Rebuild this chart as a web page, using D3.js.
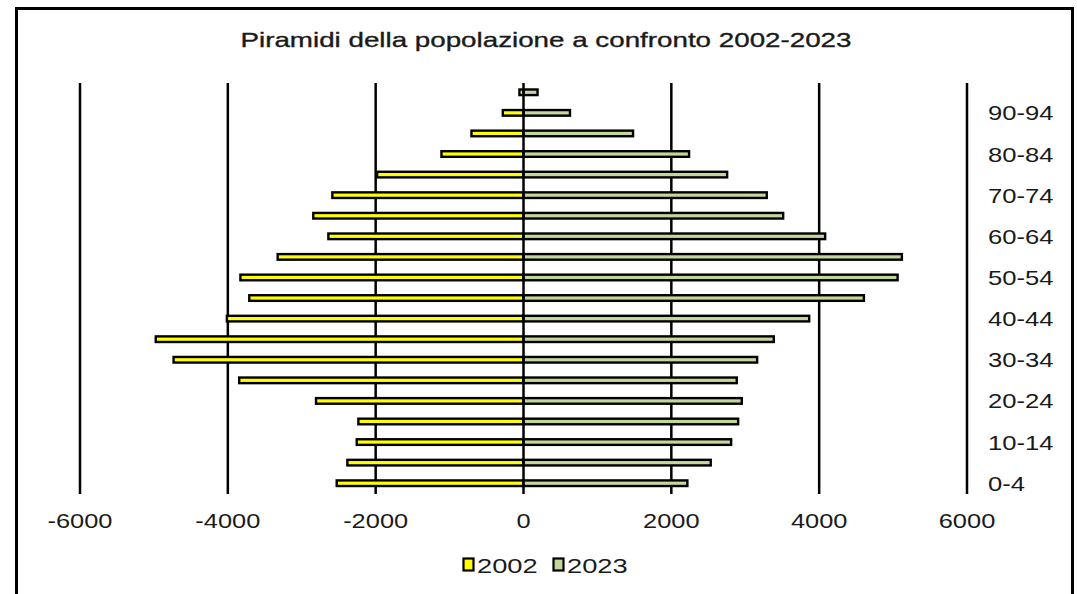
<!DOCTYPE html>
<html>
<head>
<meta charset="utf-8">
<script src="https://cdn.jsdelivr.net/npm/d3@7"></script>
<style>
  html, body { margin: 0; padding: 0; background: #fff; }
  svg { display: block; }
  text { font-family: "Liberation Sans", Arial, sans-serif; fill: #1a1a1a; }
</style>
</head>
<body>
<svg id="chart" width="1077" height="594"></svg>
<script>
const title = "Piramidi della popolazione a confronto 2002-2023";
const categories = ["0-4","5-9","10-14","15-19","20-24","25-29","30-34","35-39","40-44","45-49",
                    "50-54","55-59","60-64","65-69","70-74","75-79","80-84","85-89","90-94","95-99"];
const values2002 = [2527, 2383, 2256, 2234, 2807, 3846, 4734, 4975, 4013, 3710,
                    3830, 3326, 2640, 2844, 2586, 1980, 1110, 704, 280, 55];
const values2023 = [2217, 2533, 2809, 2904, 2953, 2885, 3161, 3386, 3865, 4605,
                    5061, 5119, 4081, 3513, 3291, 2755, 2240, 1482, 629, 190];
const yTickLabels = ["0-4","10-14","20-24","30-34","40-44","50-54","60-64","70-74","80-84","90-94"];
const xTickValues = [-6000, -4000, -2000, 0, 2000, 4000, 6000];
const seriesNames = ["2002", "2023"];
const seriesColors = ["#FFFF00", "#C4D79B"];

const svg = d3.select("#chart");

// frame
svg.append("path")
  .attr("d", "M16.5,600 L16.5,8.5 L1072.5,8.5 L1072.5,600")
  .attr("fill", "none").attr("stroke", "#000").attr("stroke-width", 3);

const x = d3.scaleLinear().domain([-6000, 6000]).range([80, 967]);
const y = d3.scaleBand().domain(categories).range([493.5, 82]).padding(0);
const barH = 5.6;

function stretch(sel, factor) {
  sel.each(function () {
    const w = this.getComputedTextLength();
    d3.select(this).attr("textLength", w * factor).attr("lengthAdjust", "spacingAndGlyphs");
  });
}

// title
svg.append("text")
  .attr("x", 546).attr("y", 47)
  .attr("text-anchor", "middle")
  .style("font-size", "21px")
  .style("stroke", "#1a1a1a").style("stroke-width", 0.35)
  .attr("textLength", 611).attr("lengthAdjust", "spacingAndGlyphs")
  .text(title);

// gridlines
svg.append("g").selectAll("line")
  .data(xTickValues.filter(d => d !== 0))
  .join("line")
  .attr("x1", d => x(d)).attr("x2", d => x(d))
  .attr("y1", 83).attr("y2", 494)
  .attr("stroke", "#000").attr("stroke-width", 2.5);

// bars
const rows = categories.map((c, i) => ({ c, a: values2002[i], b: values2023[i] }));
const g = svg.append("g");
g.selectAll("rect.b2002").data(rows).join("rect")
  .attr("class", "b2002")
  .attr("x", d => x(-d.a)).attr("width", d => x(0) - x(-d.a))
  .attr("y", d => y(d.c) + (y.bandwidth() - barH) / 2).attr("height", barH)
  .attr("fill", seriesColors[0]).attr("stroke", "#000").attr("stroke-width", 2.4);
g.selectAll("rect.b2023").data(rows).join("rect")
  .attr("class", "b2023")
  .attr("x", x(0)).attr("width", d => x(d.b) - x(0))
  .attr("y", d => y(d.c) + (y.bandwidth() - barH) / 2).attr("height", barH)
  .attr("fill", seriesColors[1]).attr("stroke", "#000").attr("stroke-width", 2.4);

// zero line
svg.append("line")
  .attr("x1", x(0)).attr("x2", x(0)).attr("y1", 83).attr("y2", 494)
  .attr("stroke", "#000").attr("stroke-width", 2.5);

// x tick labels
const xl = svg.append("g").selectAll("text").data(xTickValues).join("text")
  .attr("x", d => x(d)).attr("y", 527.5)
  .attr("text-anchor", "middle")
  .style("font-size", "21px")
  .text(d => d3.format("d")(d).replace("−", "-"));
stretch(xl, 1.21);

// y tick labels (right side)
const yl = svg.append("g").selectAll("text").data(yTickLabels).join("text")
  .attr("x", 988).attr("y", d => y(d) + y.bandwidth() / 2 + 7.5)
  .style("font-size", "21px")
  .text(d => d);
stretch(yl, 1.22);

// legend
const legendX = [462, 552];
const lg = svg.append("g");
seriesNames.forEach((n, i) => {
  lg.append("rect")
    .attr("x", legendX[i] + 1.5).attr("y", 558.5)
    .attr("width", 10).attr("height", 12)
    .attr("fill", seriesColors[i]).attr("stroke", "#000").attr("stroke-width", 2.2);
  const t = lg.append("text")
    .attr("x", legendX[i] + 15).attr("y", 572.5)
    .style("font-size", "21px")
    .text(n);
  stretch(t, 1.3);
});
</script>
</body>
</html>
